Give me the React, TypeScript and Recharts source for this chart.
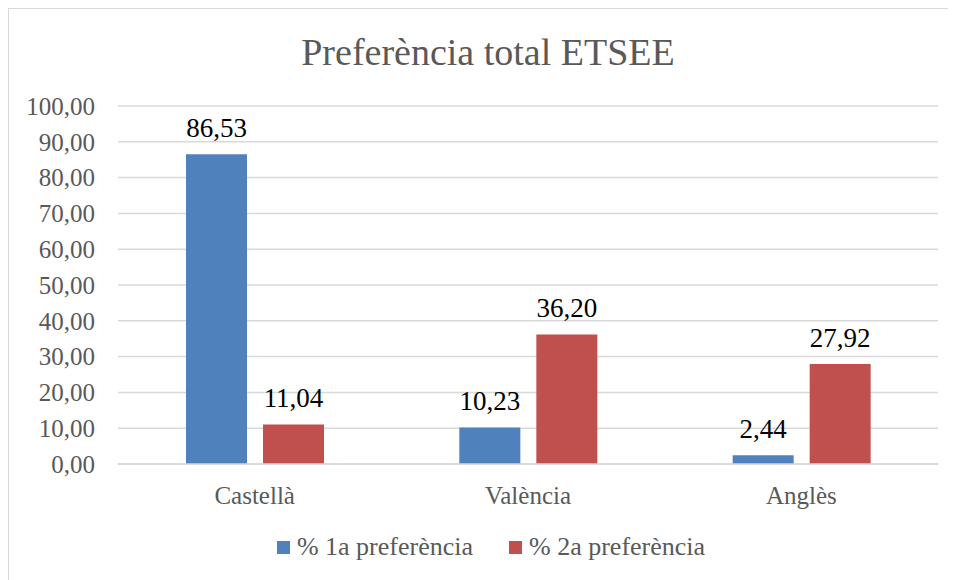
import { BarChart, Bar, XAxis, YAxis, CartesianGrid, Legend, LabelList } from "recharts";

const categories = ["Castellà", "València", "Anglès"];
const firstPref = [86.53, 10.23, 2.44];
const secondPref = [11.04, 36.2, 27.92];
const yTicks = [0, 10, 20, 30, 40, 50, 60, 70, 80, 90, 100];

const data = categories.map((name, i) => ({
  name,
  first: firstPref[i],
  second: secondPref[i],
}));

const FONT = "'Liberation Serif', serif";
const fmt = (v: number) => v.toFixed(2).replace(".", ",");

const legendItems = [
  { label: "% 1a preferència", color: "#4F81BD" },
  { label: "% 2a preferència", color: "#C0504D" },
];

const renderLegend = () => (
  <div
    style={{
      display: "flex",
      justifyContent: "center",
      alignItems: "center",
      height: 30,
      paddingLeft: 35,
      fontFamily: FONT,
      fontSize: 26,
      color: "#595959",
    }}
  >
    {legendItems.map((it, i) => (
      <div key={it.label} style={{ display: "flex", alignItems: "center", marginLeft: i ? 36 : 0 }}>
        <span style={{ width: 13, height: 13, background: it.color, marginRight: 7, display: "inline-block" }} />
        <span>{it.label}</span>
      </div>
    ))}
  </div>
);

export default function App() {
  return (
    <div
      style={{
        position: "relative",
        width: 947,
        height: 571,
        borderTop: "1px solid #d9d9d9",
        borderLeft: "1px solid #d9d9d9",
        background: "#fff",
      }}
    >
      <div
        style={{
          position: "absolute",
          top: 24,
          left: 0,
          width: 947,
          paddingLeft: 11,
          boxSizing: "border-box",
          textAlign: "center",
          fontFamily: FONT,
          fontSize: 38,
          lineHeight: "38px",
          color: "#595959",
        }}
      >
        Preferència total ETSEE
      </div>
      <BarChart
        width={947}
        height={571}
        data={data}
        margin={{ top: 97, right: 18, bottom: 18, left: 0 }}
        barSize={61}
        barGap={16}
      >
        <CartesianGrid vertical={false} stroke="#d9d9d9" strokeWidth={1.5} />
        <XAxis
          dataKey="name"
          height={68}
          tickSize={0}
          tickMargin={22}
          axisLine={{ stroke: "#d9d9d9", strokeWidth: 1.5 }}
          tickLine={false}
          tick={{ fill: "#595959", fontFamily: FONT, fontSize: 25 }}
        />
        <YAxis
          width={109}
          domain={[0, 100]}
          ticks={yTicks}
          tickFormatter={fmt}
          tickSize={0}
          tickMargin={23}
          axisLine={false}
          tickLine={false}
          tick={{ fill: "#595959", fontFamily: FONT, fontSize: 25 }}
        />
        <Legend verticalAlign="bottom" content={renderLegend} />
        <Bar dataKey="first" fill="#4F81BD" isAnimationActive={false}>
          <LabelList
            dataKey="first"
            position="top"
            offset={17}
            formatter={(v: any) => fmt(Number(v))}
            style={{ fill: "#000", fontFamily: FONT, fontSize: 27 }}
          />
        </Bar>
        <Bar dataKey="second" fill="#C0504D" isAnimationActive={false}>
          <LabelList
            dataKey="second"
            position="top"
            offset={17}
            formatter={(v: any) => fmt(Number(v))}
            style={{ fill: "#000", fontFamily: FONT, fontSize: 27 }}
          />
        </Bar>
      </BarChart>
    </div>
  );
}
